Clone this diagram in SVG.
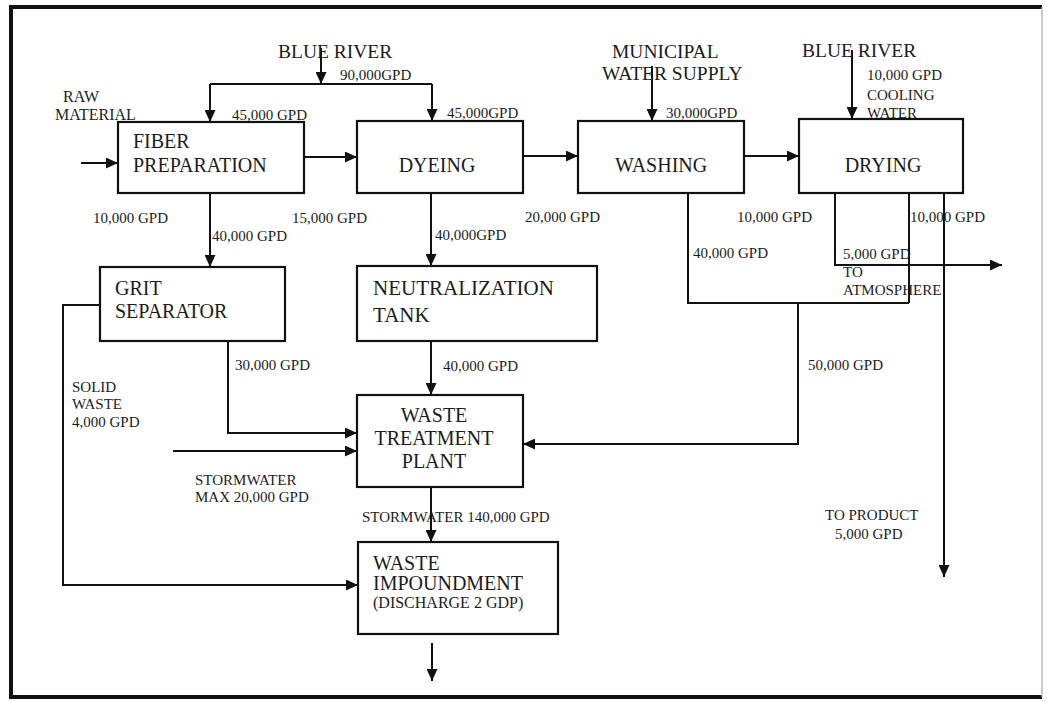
<svg xmlns="http://www.w3.org/2000/svg" width="1047" height="702" viewBox="0 0 1047 702">
<style>
  text { font-family: "Liberation Serif", "Tinos", "DejaVu Serif", "Noto Serif", "Times New Roman", Times, serif; fill: #1c1c1c; }
  .box { fill: #ffffff; stroke: #111; stroke-width: 2.2; }
  .bt { font-size: 20px; }
  .lb { font-size: 15px; }
  .src { font-size: 19.5px; }
  .ln { fill: none; stroke: #111; stroke-width: 2; }
  .frame { stroke: #111; stroke-width: 4; }
</style>
<defs>
  <marker id="ah" markerUnits="userSpaceOnUse" markerWidth="13" markerHeight="11" refX="12" refY="5.5" orient="auto">
    <path d="M0,0 L12,5.5 L0,11 Z" fill="#111"/>
  </marker>
</defs>
<rect x="0" y="0" width="1047" height="702" fill="#ffffff"/>
<g id="frame">
  <line class="frame" x1="11" y1="7" x2="1042" y2="7"/>
  <line class="frame" x1="11" y1="5" x2="11" y2="699"/>
  <line class="frame" x1="9" y1="697" x2="1042" y2="697"/>
  <line x1="1042" y1="7" x2="1042" y2="697" stroke="#bbb" stroke-width="1.5"/>
</g>
<g id="connectors">
  <path class="ln" d="M81,163 H118" marker-end="url(#ah)"/>
  <path class="ln" d="M304,157 H357" marker-end="url(#ah)"/>
  <path class="ln" d="M523,156 H578" marker-end="url(#ah)"/>
  <path class="ln" d="M744,156 H799" marker-end="url(#ah)"/>
  <path class="ln" d="M321,48 V84" marker-end="url(#ah)"/>
  <path class="ln" d="M210,84 H432"/>
  <path class="ln" d="M210,84 V122" marker-end="url(#ah)"/>
  <path class="ln" d="M432,84 V121" marker-end="url(#ah)"/>
  <path class="ln" d="M652,66 V121" marker-end="url(#ah)"/>
  <path class="ln" d="M852,50 V119" marker-end="url(#ah)"/>
  <path class="ln" d="M210,193 V267" marker-end="url(#ah)"/>
  <path class="ln" d="M431,193 V266" marker-end="url(#ah)"/>
  <path class="ln" d="M431,341 V395" marker-end="url(#ah)"/>
  <path class="ln" d="M228,341 V433 H357" marker-end="url(#ah)"/>
  <path class="ln" d="M173,451 H357" marker-end="url(#ah)"/>
  <path class="ln" d="M100,305 H63 V585 H358" marker-end="url(#ah)"/>
  <path class="ln" d="M431,487 V542" marker-end="url(#ah)"/>
  <path class="ln" d="M432,643 V681" marker-end="url(#ah)"/>
  <path class="ln" d="M688,193 V303 H909"/>
  <path class="ln" d="M798,303 V444 H523" marker-end="url(#ah)"/>
  <path class="ln" d="M835,193 V265 H1002" marker-end="url(#ah)"/>
  <path class="ln" d="M909,193 V303"/>
  <path class="ln" d="M944,193 V577" marker-end="url(#ah)"/>
</g>
<g id="fiber-preparation">
  <rect class="box" x="118" y="122" width="186" height="71"/>
  <text class="bt" x="133" y="148">FIBER</text>
  <text class="bt" x="133" y="172">PREPARATION</text>
</g>
<g id="dyeing">
  <rect class="box" x="357" y="121" width="166" height="72"/>
  <text class="bt" x="437" y="172" text-anchor="middle">DYEING</text>
</g>
<g id="washing">
  <rect class="box" x="578" y="121" width="166" height="72"/>
  <text class="bt" x="615" y="172">WASHING</text>
</g>
<g id="drying">
  <rect class="box" x="799" y="119" width="164" height="74"/>
  <text class="bt" x="883" y="172" text-anchor="middle">DRYING</text>
</g>
<g id="grit-separator">
  <rect class="box" x="100" y="267" width="185" height="74"/>
  <text class="bt" x="115" y="295">GRIT</text>
  <text class="bt" x="115" y="318">SEPARATOR</text>
</g>
<g id="neutralization-tank">
  <rect class="box" x="357" y="266" width="240" height="75"/>
  <text class="bt" x="373" y="295" style="font-size:21px">NEUTRALIZATION</text>
  <text class="bt" x="373" y="322" style="font-size:21px">TANK</text>
</g>
<g id="waste-treatment-plant">
  <rect class="box" x="357" y="395" width="166" height="92"/>
  <text class="bt" x="434" y="422" text-anchor="middle">WASTE</text>
  <text class="bt" x="434" y="445" text-anchor="middle">TREATMENT</text>
  <text class="bt" x="434" y="468" text-anchor="middle">PLANT</text>
</g>
<g id="waste-impoundment">
  <rect class="box" x="358" y="542" width="200" height="92"/>
  <text class="bt" x="373" y="570">WASTE</text>
  <text class="bt" x="373" y="590">IMPOUNDMENT</text>
  <text x="373" y="608" style="font-size:16px">(DISCHARGE 2 GDP)</text>
</g>
<g id="labels">
  <text class="lb" x="63" y="102" style="font-size:16px">RAW</text>
  <text class="lb" x="55" y="120" style="font-size:16px">MATERIAL</text>
  <text class="src" x="278" y="58">BLUE RIVER</text>
  <text class="lb" x="340" y="80">90,000GPD</text>
  <text class="lb" x="232" y="120">45,000 GPD</text>
  <text class="lb" x="447" y="118">45,000GPD</text>
  <text class="src" x="612" y="58">MUNICIPAL</text>
  <text class="src" x="602" y="80">WATER SUPPLY</text>
  <text class="lb" x="666" y="118">30,000GPD</text>
  <text class="src" x="802" y="57">BLUE RIVER</text>
  <text class="lb" x="867" y="80">10,000 GPD</text>
  <text class="lb" x="867" y="100">COOLING</text>
  <text class="lb" x="867" y="118">WATER</text>
  <text class="lb" x="93" y="223">10,000 GPD</text>
  <text class="lb" x="212" y="241">40,000 GPD</text>
  <text class="lb" x="292" y="223">15,000 GPD</text>
  <text class="lb" x="435" y="240">40,000GPD</text>
  <text class="lb" x="525" y="222">20,000 GPD</text>
  <text class="lb" x="737" y="222">10,000 GPD</text>
  <text class="lb" x="910" y="222">10,000 GPD</text>
  <text class="lb" x="693" y="258">40,000 GPD</text>
  <text class="lb" x="843" y="259">5,000 GPD</text>
  <text class="lb" x="843" y="277">TO</text>
  <text class="lb" x="843" y="295">ATMOSPHERE</text>
  <text class="lb" x="235" y="370">30,000 GPD</text>
  <text class="lb" x="443" y="371">40,000 GPD</text>
  <text class="lb" x="808" y="370">50,000 GPD</text>
  <text class="lb" x="72" y="392">SOLID</text>
  <text class="lb" x="72" y="409">WASTE</text>
  <text class="lb" x="72" y="427">4,000 GPD</text>
  <text class="lb" x="195" y="485">STORMWATER</text>
  <text class="lb" x="195" y="502">MAX 20,000 GPD</text>
  <text class="lb" x="362" y="522">STORMWATER 140,000 GPD</text>
  <text class="lb" x="825" y="520">TO PRODUCT</text>
  <text class="lb" x="835" y="539">5,000 GPD</text>
</g>
</svg>
